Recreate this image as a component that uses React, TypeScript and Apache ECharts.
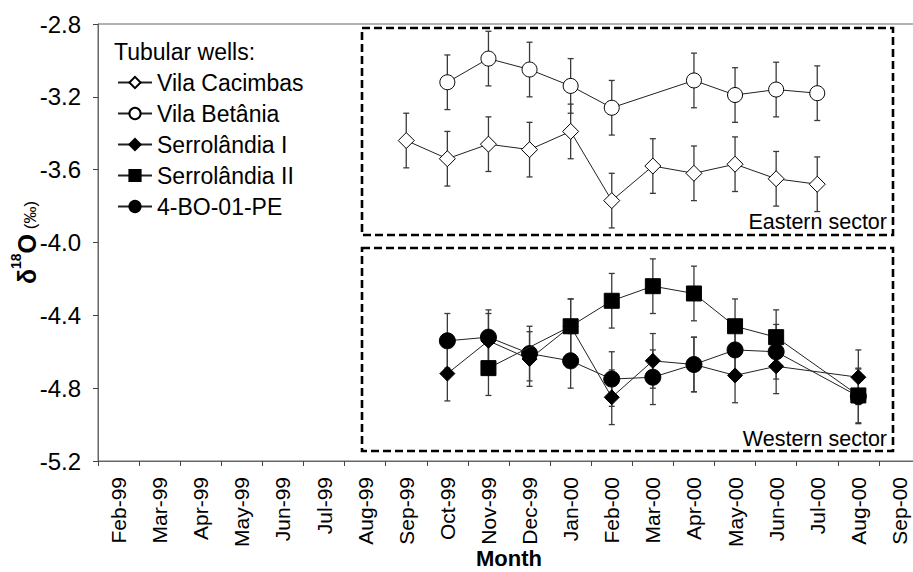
import React, { useEffect, useRef } from "react";
import * as echarts from "echarts";

const months = ["Feb-99", "Mar-99", "Apr-99", "May-99", "Jun-99", "Jul-99", "Aug-99", "Sep-99", "Oct-99", "Nov-99", "Dec-99", "Jan-00", "Feb-00", "Mar-00", "Apr-00", "May-00", "Jun-00", "Jul-00", "Aug-00", "Sep-00"];

const vilaCacimbas = [null, null, null, null, null, null, null, -3.44, -3.54, -3.46, -3.49, -3.39, -3.77, -3.58, -3.62, -3.57, -3.65, -3.68, null, null];
const vilaCacimbasErr = [null, null, null, null, null, null, null, 0.15, 0.15, 0.15, 0.15, 0.15, 0.15, 0.15, 0.15, 0.15, 0.15, 0.15, null, null];

const vilaBetania = [null, null, null, null, null, null, null, null, -3.12, -2.99, -3.05, -3.14, -3.26, null, -3.11, -3.19, -3.16, -3.18, null, null];
const vilaBetaniaErr = [null, null, null, null, null, null, null, null, 0.15, 0.15, 0.15, 0.15, 0.15, null, 0.15, 0.15, 0.15, 0.15, null, null];

const serrolandiaI = [null, null, null, null, null, null, null, null, -4.72, -4.54, -4.64, -4.46, -4.85, -4.65, -4.67, -4.73, -4.68, null, -4.74, null];
const serrolandiaIErr = [null, null, null, null, null, null, null, null, 0.15, 0.15, 0.15, 0.15, 0.15, 0.15, 0.15, 0.15, 0.15, null, 0.15, null];

const serrolandiaII = [null, null, null, null, null, null, null, null, null, -4.69, null, -4.46, -4.32, -4.24, -4.28, -4.46, -4.52, null, -4.84, null];
const serrolandiaIIErr = [null, null, null, null, null, null, null, null, null, 0.15, null, 0.15, 0.15, 0.15, 0.15, 0.15, 0.15, null, 0.15, null];

const bo01pe = [null, null, null, null, null, null, null, null, -4.54, -4.52, -4.61, -4.65, -4.75, -4.74, -4.67, -4.59, -4.6, null, -4.845, null];
const bo01peErr = [null, null, null, null, null, null, null, null, 0.15, 0.15, 0.15, 0.15, 0.15, 0.15, 0.15, 0.15, 0.15, null, 0.15, null];

const seriesNames = ["Vila Cacimbas", "Vila Betânia", "Serrolândia I", "Serrolândia II", "4-BO-01-PE"];

const FONT = "Liberation Sans, Arial, sans-serif";

function errData(vals: (number | null)[], errs: (number | null)[]) {
  const out: number[][] = [];
  vals.forEach((v, i) => {
    const e = errs[i];
    if (v !== null && e !== null) out.push([i, v, e]);
  });
  return out;
}

function errSeries(vals: (number | null)[], errs: (number | null)[], z: number) {
  return {
    type: "custom",
    z,
    silent: true,
    data: errData(vals, errs),
    encode: { x: 0, y: 1 },
    renderItem: (params: any, api: any) => {
      const x = api.value(0);
      const y = api.value(1);
      const e = api.value(2);
      const top = api.coord([x, y + e]);
      const bot = api.coord([x, y - e]);
      const cw = 3;
      const st = { stroke: "#3a3a3a", lineWidth: 1.3 };
      return {
        type: "group",
        children: [
          { type: "line", shape: { x1: top[0], y1: top[1], x2: bot[0], y2: bot[1] }, style: st },
          { type: "line", shape: { x1: top[0] - cw, y1: top[1], x2: top[0] + cw, y2: top[1] }, style: st },
          { type: "line", shape: { x1: bot[0] - cw, y1: bot[1], x2: bot[0] + cw, y2: bot[1] }, style: st },
        ],
      };
    },
  };
}

function lineSeries(name: string, vals: (number | null)[], symbol: string, size: number, fill: string, z: number) {
  return {
    type: "line",
    name,
    data: vals,
    z,
    connectNulls: true,
    symbol,
    symbolSize: size,
    showAllSymbol: true,
    lineStyle: { color: "#222", width: 1 },
    itemStyle: { color: fill, borderColor: "#000", borderWidth: 1 },
  };
}

export default function App() {
  const ref = useRef<HTMLDivElement>(null);
  useEffect(() => {
    if (!ref.current) return;
    const chart = echarts.init(ref.current, undefined, { renderer: "svg" });
    const option: any = {
      animation: false,
      textStyle: { fontFamily: FONT, color: "#000" },
      grid: {
        left: 98,
        right: -7,
        top: 24,
        bottom: 111,
        outerBoundsMode: "none",
        containLabel: false,
        show: true,
        borderColor: "#666",
        borderWidth: 1,
        backgroundColor: "transparent",
      },
      legend: {
        data: seriesNames,
        orient: "vertical",
        left: 112,
        top: 66,
        itemWidth: 34,
        itemHeight: 14,
        itemGap: 8,
        textStyle: { fontSize: 23, color: "#000", fontFamily: FONT },
        selectedMode: false,
      },
      xAxis: {
        type: "category",
        data: months,
        boundaryGap: true,
        name: "Month",
        nameLocation: "middle",
        nameGap: 86,
        nameMoveOverlap: false,
        nameTextStyle: { fontSize: 22, fontWeight: "bold", color: "#000", fontFamily: FONT },
        axisLine: { lineStyle: { color: "#666", width: 1 } },
        axisTick: { show: true, length: 5, alignWithLabel: false, lineStyle: { color: "#444" } },
        axisLabel: { rotate: 90, fontSize: 21, color: "#000", margin: 16, interval: 0, fontFamily: FONT },
        splitLine: { show: false },
      },
      yAxis: {
        type: "value",
        min: -5.2,
        max: -2.8,
        interval: 0.4,
        name: "{b|δ}{sup|18}{b|O}{s| (‰)}",
        nameLocation: "middle",
        nameGap: 59,
        nameRotate: 90,
        nameMoveOverlap: false,
        nameTextStyle: {
          rich: {
            b: { fontSize: 25, fontWeight: "bold", color: "#000", fontFamily: FONT, lineHeight: 30, verticalAlign: "bottom" },
            sup: { fontSize: 14, fontWeight: "bold", color: "#000", fontFamily: FONT, lineHeight: 30, verticalAlign: "top" },
            s: { fontSize: 17, color: "#000", fontFamily: FONT, lineHeight: 30, verticalAlign: "bottom" },
          },
        },
        axisLine: { show: true, lineStyle: { color: "#666", width: 1 } },
        axisTick: { show: true, length: 5, lineStyle: { color: "#444" } },
        axisLabel: { fontSize: 24, color: "#000", margin: 17, fontFamily: FONT, formatter: (v: number) => v.toFixed(1) },
        splitLine: { show: false },
      },
      graphic: [
        { type: "text", left: 114, top: 40, style: { text: "Tubular wells:", fontSize: 23, fill: "#000", fontFamily: FONT } },
        { type: "rect", shape: { x: 362, y: 28, width: 531, height: 207 }, style: { fill: "none", stroke: "#000", lineWidth: 2.6, lineDash: [8, 4] }, z: 1 },
        { type: "rect", shape: { x: 362, y: 248, width: 531, height: 203 }, style: { fill: "none", stroke: "#000", lineWidth: 2.6, lineDash: [8, 4] }, z: 1 },
        { type: "text", x: 887, y: 222, style: { text: "Eastern sector", fontSize: 21.5, fill: "#000", fontFamily: FONT, align: "right", verticalAlign: "middle" } },
        { type: "text", x: 887, y: 439, style: { text: "Western sector", fontSize: 21.5, fill: "#000", fontFamily: FONT, align: "right", verticalAlign: "middle" } },
      ],
      series: [
        errSeries(vilaCacimbas, vilaCacimbasErr, 1),
        errSeries(vilaBetania, vilaBetaniaErr, 1),
        errSeries(serrolandiaI, serrolandiaIErr, 1),
        errSeries(serrolandiaII, serrolandiaIIErr, 1),
        errSeries(bo01pe, bo01peErr, 1),
        lineSeries("Vila Cacimbas", vilaCacimbas, "diamond", 16, "#fff", 3),
        lineSeries("Vila Betânia", vilaBetania, "circle", 15, "#fff", 3),
        lineSeries("Serrolândia I", serrolandiaI, "diamond", 15, "#000", 3),
        lineSeries("Serrolândia II", serrolandiaII, "rect", 15, "#000", 5),
        lineSeries("4-BO-01-PE", bo01pe, "circle", 16, "#000", 4),
      ],
    };
    chart.setOption(option);
    return () => chart.dispose();
  }, []);
  return <div ref={ref} style={{ position: "absolute", left: 0, top: 0, width: 913, height: 572 }} />;
}
